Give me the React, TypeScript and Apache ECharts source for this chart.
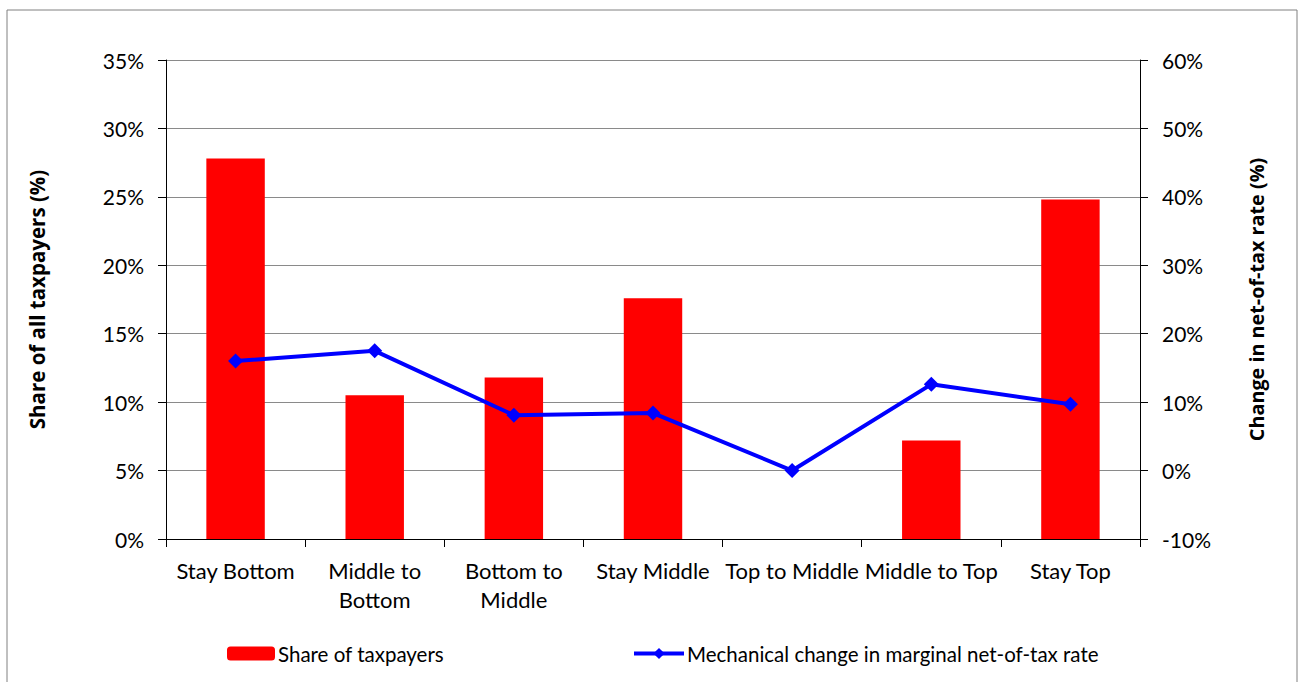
import React, { useEffect, useRef } from "react";
import * as echarts from "echarts";

const categories = ["Stay Bottom", "Middle to\nBottom", "Bottom to\nMiddle", "Stay Middle", "Top to Middle", "Middle to Top", "Stay Top"];
const shareValues = [27.8, 10.5, 11.8, 17.6, null, 7.2, 24.8];
const rateValues = [16.0, 17.5, 8.1, 8.4, 0.0, 12.6, 9.7];
const leftTicks = { min: 0, max: 35, interval: 5 };
const rightTicks = { min: -10, max: 60, interval: 10 };

const FONT = "Lato, 'Open Sans', sans-serif";
const BOLD_FONT = "'Open Sans', sans-serif";

export default function App() {
  const ref = useRef<HTMLDivElement>(null);
  useEffect(() => {
    const chart = echarts.init(ref.current!, null, { renderer: "svg" });
    chart.setOption({
      animation: false,
      textStyle: { fontFamily: FONT },
      graphic: [
        {
          type: "rect",
          shape: { x: 7, y: 10, width: 1290, height: 680 },
          style: { fill: "none", stroke: "#808080", lineWidth: 1 },
          silent: true,
        },
      ],
      grid: { left: 166, right: 165, top: 60, bottom: 143 },
      legend: [
        {
          data: ["Share of taxpayers"],
          left: 222,
          top: 638,
          itemWidth: 48,
          itemHeight: 14,
          textStyle: { fontSize: 20.5, color: "#000", fontFamily: FONT, padding: [0, 0, 0, -2] },
        },
        {
          data: ["Mechanical change in marginal net-of-tax rate"],
          left: 627,
          top: 638,
          itemWidth: 50,
          itemHeight: 14,
          lineStyle: { width: 4, color: "#0000FF" },
          textStyle: { fontSize: 20.5, color: "#000", fontFamily: FONT, padding: [0, 0, 0, -2] },
        },
      ],
      xAxis: {
        type: "category",
        data: categories,
        axisLine: { lineStyle: { color: "#000", width: 1 } },
        axisTick: { show: true, alignWithLabel: false, length: 8, lineStyle: { color: "#000" } },
        axisLabel: { fontSize: 22, color: "#000", lineHeight: 29, margin: 17, interval: 0 },
      },
      yAxis: [
        {
          type: "value",
          min: leftTicks.min,
          max: leftTicks.max,
          interval: leftTicks.interval,
          name: "Share of all taxpayers (%)",
          nameLocation: "middle",
          nameGap: 119,
          nameTextStyle: { fontSize: 20.5, fontWeight: "bold", fontFamily: BOLD_FONT, color: "#000" },
          axisLine: { show: true, lineStyle: { color: "#000" } },
          axisTick: { show: true, length: 8, lineStyle: { color: "#000" } },
          axisLabel: { fontSize: 21, color: "#000", margin: 22, formatter: (v: number) => v + "%" },
          splitLine: { show: true, lineStyle: { color: "#8a8a8a", width: 1 } },
        },
        {
          type: "value",
          min: rightTicks.min,
          max: rightTicks.max,
          interval: rightTicks.interval,
          name: "Change in net-of-tax rate (%)",
          nameLocation: "middle",
          nameGap: 106,
          nameRotate: 90,
          nameTextStyle: { fontSize: 19.8, fontWeight: "bold", fontFamily: BOLD_FONT, color: "#000" },
          axisLine: { show: true, lineStyle: { color: "#000" } },
          axisTick: { show: true, length: 8, lineStyle: { color: "#000" } },
          axisLabel: { fontSize: 21, color: "#000", margin: 22, formatter: (v: number) => v + "%" },
          splitLine: { show: false },
        },
      ],
      series: [
        {
          name: "Share of taxpayers",
          type: "bar",
          data: shareValues,
          yAxisIndex: 0,
          barWidth: "42%",
          itemStyle: { color: "#FF0000" },
        },
        {
          name: "Mechanical change in marginal net-of-tax rate",
          type: "line",
          data: rateValues,
          yAxisIndex: 1,
          symbol: "diamond",
          symbolSize: 15,
          lineStyle: { color: "#0000FF", width: 4 },
          itemStyle: { color: "#0000FF" },
        },
      ],
    });
    return () => chart.dispose();
  }, []);
  return <div ref={ref} style={{ position: "absolute", left: 0, top: 0, width: 1305, height: 682 }} />;
}
